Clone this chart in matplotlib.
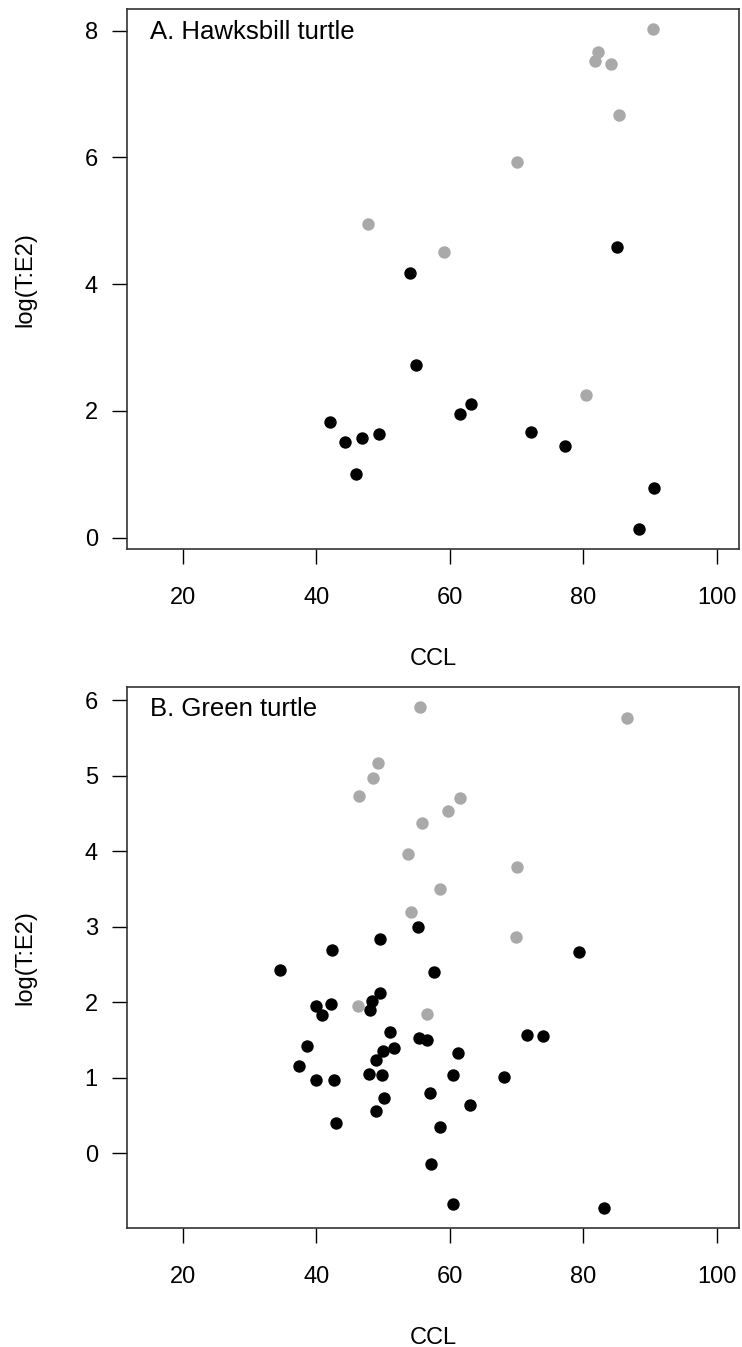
import matplotlib
matplotlib.use("Agg")
from matplotlib import pyplot as plt

plt.rcParams['font.family'] = ['Liberation Sans', 'DejaVu Sans']

# A. Hawksbill turtle
hawk_gray_ccl = [47.7, 59.1, 70.0, 80.4, 81.7, 82.2, 84.1, 85.4, 90.5]
hawk_gray_log = [4.94, 4.50, 5.93, 2.25, 7.52, 7.66, 7.48, 6.67, 8.03]
hawk_black_ccl = [42.1, 44.3, 45.9, 46.8, 49.4, 54.0, 55.0, 61.6, 63.2, 72.2, 77.2, 85.1, 88.3, 90.6]
hawk_black_log = [1.83, 1.51, 1.00, 1.57, 1.64, 4.17, 2.73, 1.95, 2.11, 1.66, 1.45, 4.58, 0.13, 0.79]

# B. Green turtle
green_gray_ccl = [55.5, 86.5, 49.2, 48.5, 46.4, 61.6, 59.8, 55.8, 53.8, 70.1, 58.5, 54.2, 69.9, 46.2, 56.6]
green_gray_log = [5.91, 5.77, 5.17, 4.97, 4.73, 4.71, 4.53, 4.38, 3.96, 3.79, 3.50, 3.19, 2.87, 1.95, 1.84]
green_black_ccl = [55.2, 49.5, 42.3, 79.4, 34.5, 57.6, 49.5, 48.4, 40.0, 42.2, 48.0, 40.9, 51.1,
                   71.5, 73.9, 55.4, 56.6, 38.6, 51.7, 50.0, 61.2, 48.9, 37.4, 47.9, 49.9, 60.5,
                   68.1, 39.9, 42.6, 57.0, 50.1, 63.0, 49.0, 43.0, 58.5, 57.2, 60.5, 83.1]
green_black_log = [2.99, 2.84, 2.69, 2.66, 2.43, 2.40, 2.12, 2.02, 1.95, 1.97, 1.90, 1.83, 1.60,
                   1.57, 1.55, 1.52, 1.50, 1.42, 1.39, 1.35, 1.33, 1.24, 1.16, 1.05, 1.04, 1.04,
                   1.01, 0.97, 0.97, 0.80, 0.73, 0.64, 0.56, 0.40, 0.34, -0.14, -0.67, -0.73]

x_ticks = [20, 40, 60, 80, 100]

W, H = 742, 1347
fig = plt.figure(figsize=(W / 100, H / 100), dpi=100)


def make_axes(top, bottom):
    return fig.add_axes([127 / W, 1 - bottom / H, (739.3 - 127) / W, (bottom - top) / H])


def style(ax, title, ylim, yticks):
    ax.set_xlim(11.6, 103.4)
    ax.set_ylim(*ylim)
    ax.set_xticks(x_ticks)
    ax.set_yticks(yticks)
    ax.tick_params(axis='x', length=11, width=1, pad=16.5, labelsize=17)
    ax.tick_params(axis='y', length=11, width=1, pad=10, labelsize=17)
    for s in ax.spines.values():
        s.set_linewidth(1.2)
        s.set_color('#333333')
    ax.set_xlabel("CCL", fontsize=17, labelpad=28)
    ax.set_ylabel("log(T:E2)", fontsize=17)
    ax.yaxis.set_label_coords(-0.148, 0.5)
    ax.text(0.038, 0.958, title, transform=ax.transAxes, fontsize=18.5,
            ha='left', va='center')


ms = 80
gray = '#A9A9A9'

axA = make_axes(9, 549.3)
axA.scatter(hawk_gray_ccl, hawk_gray_log, s=ms, c=gray, linewidths=0, zorder=3)
axA.scatter(hawk_black_ccl, hawk_black_log, s=ms, c='black', linewidths=0, zorder=3)
style(axA, "A. Hawksbill turtle", (-0.185, 8.34), [0, 2, 4, 6, 8])

axB = make_axes(686.7, 1228.3)
axB.scatter(green_gray_ccl, green_gray_log, s=ms, c=gray, linewidths=0, zorder=3)
axB.scatter(green_black_ccl, green_black_log, s=ms, c='black', linewidths=0, zorder=3)
style(axB, "B. Green turtle", (-0.996, 6.18), [0, 1, 2, 3, 4, 5, 6])

fig.savefig("out.png", dpi=100)
